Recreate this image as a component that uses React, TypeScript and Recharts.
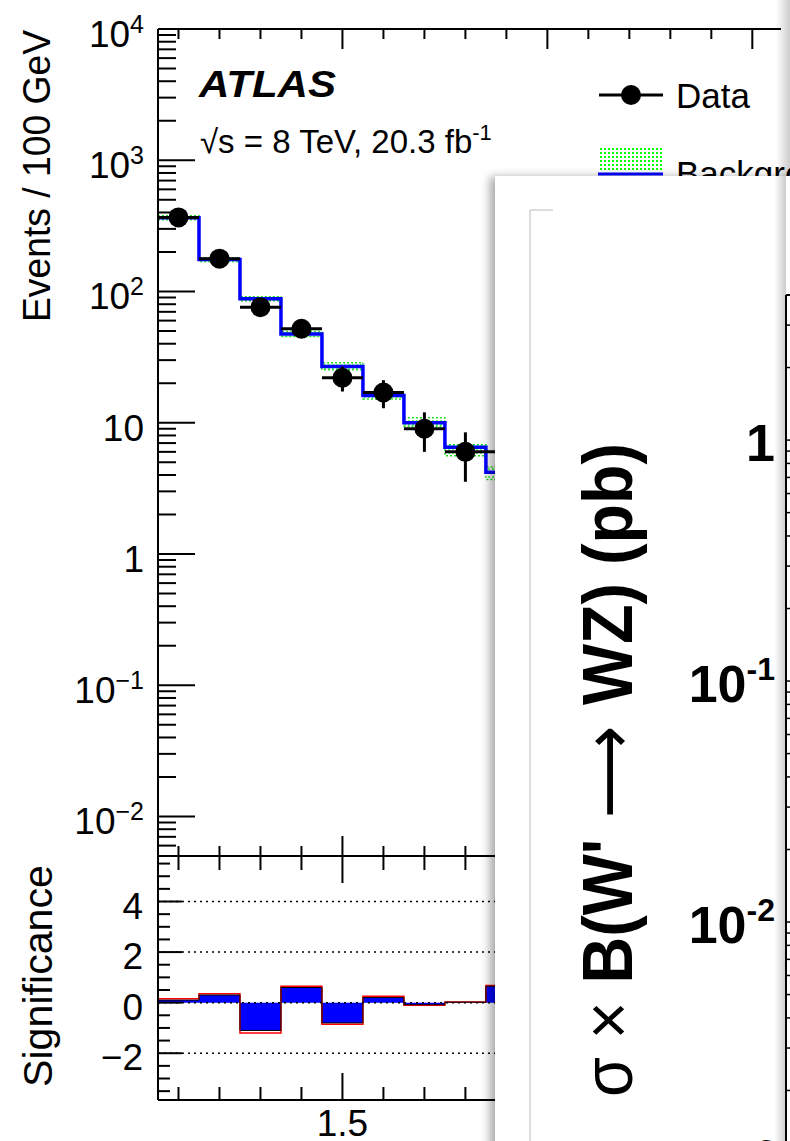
import React from 'react';
import { ComposedChart, Line, Area, Scatter, ErrorBar, XAxis, YAxis, ReferenceLine } from 'recharts';

const FONT = '"Liberation Sans", Arial, Helvetica, sans-serif';

// histogram bins, 100 GeV wide (TeV); last edge closes the last bin
const binEdges = [1.05, 1.15, 1.25, 1.35, 1.45, 1.55, 1.65, 1.75, 1.85, 1.95];
const binCenters = [1.1, 1.2, 1.3, 1.4, 1.5, 1.6, 1.7, 1.8, 1.9];

// data points
const dataCounts = [367, 178, 76, 52, 22, 17, 9, 6, 6];
const dataErr = [19.2, 13.3, 8.7, 7.2, 4.7, 4.1, 3.0, 2.45, 2.45];

// background histogram + uncertainty band
const bkgValues = [365, 175, 88, 47.5, 26.8, 16.1, 10.0, 6.5, 4.2];
const bkgUp = [378, 181, 91, 49.5, 28.7, 17.0, 10.9, 6.8, 4.6];
const bkgDown = [352, 169, 85, 45.5, 25.3, 15.2, 9.4, 5.6, 3.7];

// significance panel
const sigValues = [0.1, 0.3, -1.1, 0.6, -0.8, 0.2, -0.08, 0.02, 0.65];
const sigAlt = [0.15, 0.35, -1.2, 0.65, -0.85, 0.25, -0.1, 0.03, 0.68];

// axes
const xTicks = [1.1, 1.2, 1.3, 1.4, 1.5, 1.6, 1.7, 1.8, 1.9, 2.0, 2.1, 2.2, 2.3, 2.4, 2.5];
const xDomain = [1.05, 2.57];
const upperDomain = [0.005, 10000];
const lowerDomain = [-3.85, 5.8];
const lowerLabelled = [-2, 0, 2, 4];
const innerDomain = [0.001, 4];

const logTicks = (lo: number, hi: number) => {
  const out: number[] = [];
  for (let k = -4; k <= 4; k++) {
    for (let m = 1; m <= 9; m++) {
      const v = m * Math.pow(10, k);
      if (v >= lo * 0.999 && v <= hi * 1.001) out.push(v);
    }
  }
  return out;
};
const upperYTicks = logTicks(upperDomain[0], upperDomain[1]);
const innerYTicks = logTicks(innerDomain[0], innerDomain[1]);
const lowerYTicks: number[] = [];
for (let v = -3.5; v <= 5.5; v += 0.5) lowerYTicks.push(v);

const isDecade = (v: number) => Math.abs(Math.log10(v) - Math.round(Math.log10(v))) < 1e-6;
const isMajorX = (v: number) => Math.abs(v * 2 - Math.round(v * 2)) < 1e-6;
const pick = (arr: number[], i: number) => arr[Math.min(i, arr.length - 1)];

const upperRows = binEdges.map((x, i) => ({
  x,
  bkg: pick(bkgValues, i),
  band: [pick(bkgDown, i), pick(bkgUp, i)],
}));
const pointRows = binCenters.map((x, i) => ({ x, y: dataCounts[i], err: dataErr[i], xerr: 0.05 }));
const lowerRows = binEdges.map((x, i) => ({ x, sig: pick(sigValues, i), alt: pick(sigAlt, i) }));
const innerRows = [0, 1].map((i) => ({ i }));

// layout (px)
const AXL = 158;
const UP_TOP = 29;
const UP_BOT = 856;
const LO_OFF = 840;
const LO_TOP = UP_BOT - LO_OFF;
const LO_BOT = 1100 - LO_OFF;

const makeXTick = (axisY: number, dir: number, minor: number, major: number, labelY?: number) => (props: any) => {
  const { x, payload } = props;
  const big = isMajorX(payload.value);
  return (
    <g>
      <line x1={x} x2={x} y1={axisY} y2={axisY + dir * (big ? major : minor)} stroke="#000" strokeWidth={2} />
      {labelY !== undefined && big ? (
        <text x={x} y={labelY} textAnchor="middle" fontSize={37} fontFamily={FONT} fill="#000">
          {Number(payload.value).toString()}
        </text>
      ) : null}
    </g>
  );
};

const UpperYTick = (props: any) => {
  const { y, payload } = props;
  const v = payload.value;
  const big = isDecade(v);
  const e = Math.round(Math.log10(v));
  return (
    <g>
      <line x1={AXL} x2={AXL + (big ? 37 : 18)} y1={y} y2={y} stroke="#000" strokeWidth={2} />
      {big ? (
        <text x={144} y={y + 18} textAnchor="end" fontSize={37} fontFamily={FONT} fill="#000">
          {e === 0 ? '1' : '10'}
          {e !== 0 && e !== 1 ? (
            <tspan dy={-14} fontSize={25}>{e < 0 ? '\u2212' + -e : String(e)}</tspan>
          ) : null}
        </text>
      ) : null}
    </g>
  );
};

const LowerYTick = (props: any) => {
  const { y, payload } = props;
  const v = payload.value;
  const big = lowerLabelled.includes(v);
  return (
    <g>
      <line x1={AXL} x2={AXL + (big ? 24 : 12)} y1={y} y2={y} stroke="#000" strokeWidth={2} />
      {big ? (
        <text x={143} y={y + 17} textAnchor="end" fontSize={37} fontFamily={FONT} fill="#000">
          {v < 0 ? '\u2212' + -v : String(v)}
        </text>
      ) : null}
    </g>
  );
};

const InnerYTick = (props: any) => {
  const { y, payload } = props;
  const v = payload.value;
  const big = isDecade(v);
  const e = Math.round(Math.log10(v));
  return (
    <g>
      <line x1={291} x2={291 + (big ? 24 : 12)} y1={y} y2={y} stroke="#000" strokeWidth={1.5} />
      {big ? (
        <text x={280} y={y + 21} textAnchor="end" fontSize={52} fontWeight="bold" fontFamily={FONT} fill="#000">
          {e === 0 ? '1' : '10'}
          {e !== 0 ? <tspan dy={-22} fontSize={32}>{String(e)}</tspan> : null}
        </text>
      ) : null}
    </g>
  );
};

const Dot = (p: any) => <circle cx={p.cx} cy={p.cy} r={10} fill="#000" />;

const axisLine = { stroke: '#000', strokeWidth: 2 };

export default function App() {
  return (
    <div style={{ position: 'absolute', left: 0, top: 0, width: 790, height: 1141, overflow: 'hidden', background: '#fff' }}>
      {/* upper panel */}
      <div style={{ position: 'absolute', left: 0, top: 0 }}>
        <ComposedChart width={790} height={870} data={upperRows} margin={{ top: UP_TOP - 1, right: 9, bottom: 870 - UP_BOT - 1, left: 0 }}>
          <defs>
            <pattern id="greenDots" width="4" height="4" patternUnits="userSpaceOnUse">
              <rect x="0" y="0" width="2" height="2" fill="#00ff00" />
            </pattern>
          </defs>
          <XAxis dataKey="x" type="number" domain={xDomain} allowDataOverflow ticks={xTicks} interval={0}
            height={1} axisLine={axisLine} tickLine={false} tick={makeXTick(UP_BOT, -1, 10, 20)} />
          <XAxis xAxisId="top" orientation="top" dataKey="x" type="number" domain={xDomain} allowDataOverflow ticks={xTicks} interval={0}
            height={1} axisLine={axisLine} tickLine={false} tick={makeXTick(UP_TOP, 1, 10, 20)} />
          <YAxis type="number" scale="log" domain={upperDomain} allowDataOverflow ticks={upperYTicks} interval={0}
            width={AXL} axisLine={axisLine} tickLine={false} tick={UpperYTick} />
          <Area type="stepAfter" dataKey="band" fill="url(#greenDots)" stroke="#22dd22" strokeWidth={1.5}
            strokeDasharray="2 2" isAnimationActive={false} />
          <Line type="stepAfter" dataKey="bkg" stroke="#0000ff" strokeWidth={3.5} dot={false} isAnimationActive={false} />
          <Scatter data={pointRows} dataKey="y" shape={Dot} isAnimationActive={false}>
            <ErrorBar dataKey="err" direction="y" width={0} stroke="#000" strokeWidth={3} />
            <ErrorBar dataKey="xerr" direction="x" width={0} stroke="#000" strokeWidth={3} />
          </Scatter>
        </ComposedChart>
      </div>

      {/* lower panel */}
      <div style={{ position: 'absolute', left: 0, top: LO_OFF }}>
        <ComposedChart width={790} height={301} data={lowerRows} margin={{ top: LO_TOP - 1, right: 9, bottom: 301 - LO_BOT - 1, left: 0 }}>
          <XAxis dataKey="x" type="number" domain={xDomain} allowDataOverflow ticks={xTicks} interval={0}
            height={1} axisLine={axisLine} tickLine={false} tick={makeXTick(LO_BOT, -1, 13, 27, 296)} />
          <XAxis xAxisId="top" orientation="top" dataKey="x" type="number" domain={xDomain} allowDataOverflow ticks={xTicks} interval={0}
            height={1} axisLine={axisLine} tickLine={false} tick={makeXTick(LO_TOP, 1, 14, 27)} />
          <YAxis type="number" domain={lowerDomain} allowDataOverflow ticks={lowerYTicks} interval={0}
            width={AXL} axisLine={axisLine} tickLine={false} tick={LowerYTick} />
          <Area type="stepAfter" dataKey="sig" baseValue={0} fill="#0000ff" fillOpacity={1} stroke="none" isAnimationActive={false} />
          <Line type="stepAfter" dataKey="alt" stroke="#ff0000" strokeWidth={1.5} dot={false} isAnimationActive={false} />
          <Line type="stepAfter" dataKey="sig" stroke="#000" strokeWidth={1} dot={false} isAnimationActive={false} />
          {lowerLabelled.map((v) => (
            <ReferenceLine key={v} y={v} stroke="#000" strokeWidth={1.5} strokeDasharray="2 4" />
          ))}
        </ComposedChart>
      </div>

      {/* titles and legend */}
      <svg style={{ position: 'absolute', left: 0, top: 0 }} width={790} height={1141}>
        <defs>
          <pattern id="legDots" width="4" height="4" patternUnits="userSpaceOnUse">
            <rect x="0" y="0" width="2" height="2" fill="#00ff00" />
          </pattern>
        </defs>
        <text transform="rotate(-90, 50, 176)" x={50} y={176} textAnchor="middle" fontSize={38} fontFamily={FONT}
          textLength={292} lengthAdjust="spacingAndGlyphs">Events / 100 GeV</text>
        <text transform="rotate(-90, 52, 976)" x={52} y={976} textAnchor="middle" fontSize={40} fontFamily={FONT}
          textLength={222} lengthAdjust="spacingAndGlyphs">Significance</text>
        <text x={199} y={97} fontSize={37} fontWeight="bold" fontStyle="italic" fontFamily={FONT}
          textLength={137} lengthAdjust="spacingAndGlyphs">ATLAS</text>
        <text x={200} y={153} fontSize={33} fontFamily={FONT}>
          {'\u221As = 8 TeV, 20.3 fb'}
          <tspan dy={-13} fontSize={22}>-1</tspan>
        </text>
        <line x1={599} x2={663} y1={95} y2={95} stroke="#000" strokeWidth={3} />
        <circle cx={631} cy={95} r={10} fill="#000" />
        <text x={676} y={108} fontSize={35} fontFamily={FONT}>Data</text>
        <rect x={598} y={148} width={65} height={24} fill="url(#legDots)" />
        <line x1={598} x2={663} y1={174} y2={174} stroke="#0000ff" strokeWidth={3} />
        <text x={676} y={186} fontSize={35} fontFamily={FONT}>Background</text>
      </svg>

      {/* top-right window shadow */}
      <div style={{ position: 'absolute', left: 776, top: 0, width: 14, height: 176,
        background: 'linear-gradient(to right, rgba(0,0,0,0), rgba(0,0,0,0.2))' }} />

      {/* overlapping window with the cross-section plot */}
      <div style={{ position: 'absolute', left: 495, top: 176, width: 340, height: 1000, background: '#fff',
        boxShadow: '-5px 1px 9px rgba(0,0,0,0.35)' }}>
        <svg style={{ position: 'absolute', left: 0, top: 0 }} width={340} height={1000}>
          <line x1={35} x2={35} y1={34} y2={1000} stroke="#d2d2d2" strokeWidth={1.5} />
          <line x1={35} x2={58} y1={34} y2={34} stroke="#d2d2d2" strokeWidth={1.5} />
          <text transform="rotate(-90, 137, 594)" x={137} y={594} textAnchor="middle" fontSize={70} fontWeight="bold"
            fontFamily={FONT} textLength={654} lengthAdjust="spacingAndGlyphs">
            <tspan fontWeight="normal">{'\u03C3 \u00D7 '}</tspan>
            {"B(W'"}
            <tspan fontWeight="normal" fontFamily='"DejaVu Sans", sans-serif'>{' \u27F6 '}</tspan>
            {'WZ) (pb)'}
          </text>
        </svg>
        <div style={{ position: 'absolute', left: 0, top: 0 }}>
          <ComposedChart width={340} height={987} data={innerRows} margin={{ top: 118, right: 0, bottom: 0, left: 0 }}>
            <XAxis dataKey="i" type="number" domain={[0, 1]} orientation="top" height={1} tick={false} tickLine={false} axisLine={axisLine} />
            <YAxis type="number" scale="log" domain={innerDomain} allowDataOverflow ticks={innerYTicks} interval={0}
              width={291} axisLine={axisLine} tickLine={false} tick={InnerYTick} />
          </ComposedChart>
        </div>
        <div style={{ position: 'absolute', left: 279, top: 0, width: 12, height: 1000,
          background: 'linear-gradient(to right, rgba(0,0,0,0), rgba(0,0,0,0.2))' }} />
      </div>
    </div>
  );
}
